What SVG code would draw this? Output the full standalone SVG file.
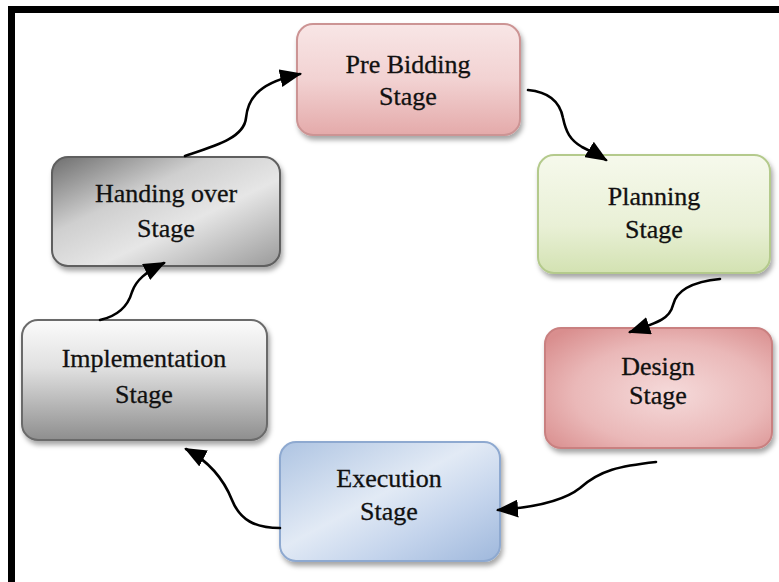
<svg xmlns="http://www.w3.org/2000/svg" width="779" height="582" viewBox="0 0 779 582">
  <defs>
    <style>
      .box { stroke-width: 2; filter: url(#shadow); }
      .label { font-family: "Liberation Serif", "Times New Roman", serif; font-size: 26px; fill: #111; stroke: #111; stroke-width: 0.3; text-anchor: middle; }
      .link { fill: none; stroke: #000; stroke-width: 2.6; stroke-linecap: round; marker-end: url(#arrow); }
    </style>
    <filter id="shadow" x="-10%" y="-10%" width="125%" height="130%">
      <feDropShadow dx="2" dy="4" stdDeviation="2.5" flood-color="#000" flood-opacity="0.35"/>
    </filter>
    <marker id="arrow" viewBox="0 0 22 18" refX="20" refY="9" markerWidth="22" markerHeight="18" orient="auto" markerUnits="userSpaceOnUse">
      <path d="M0,0 L22,9 L0,18 Z" fill="#000"/>
    </marker>
    <linearGradient id="gPre" x1="0" y1="0" x2="0" y2="1">
      <stop offset="0" stop-color="#f8e6e6"/>
      <stop offset="0.5" stop-color="#f2d2d2"/>
      <stop offset="1" stop-color="#e4aaaa"/>
    </linearGradient>
    <linearGradient id="gPlan" x1="0" y1="0" x2="0" y2="1">
      <stop offset="0" stop-color="#f6f9ec"/>
      <stop offset="0.6" stop-color="#e9f0d6"/>
      <stop offset="1" stop-color="#d3e2b2"/>
    </linearGradient>
    <radialGradient id="gDes" cx="0.55" cy="0.55" r="0.7">
      <stop offset="0" stop-color="#f5dada"/>
      <stop offset="0.6" stop-color="#eab8b8"/>
      <stop offset="1" stop-color="#d98e8e"/>
    </radialGradient>
    <linearGradient id="gExe" x1="0" y1="0" x2="1" y2="1">
      <stop offset="0" stop-color="#aec4e2"/>
      <stop offset="0.45" stop-color="#e2eaf5"/>
      <stop offset="0.7" stop-color="#c4d4ec"/>
      <stop offset="1" stop-color="#9fb8dc"/>
    </linearGradient>
    <linearGradient id="gImp" x1="0" y1="0" x2="0" y2="1">
      <stop offset="0" stop-color="#fbfbfb"/>
      <stop offset="0.4" stop-color="#e0e0e0"/>
      <stop offset="1" stop-color="#8e8e8e"/>
    </linearGradient>
    <linearGradient id="gHand" x1="0" y1="0" x2="1" y2="1">
      <stop offset="0" stop-color="#6e6e6e"/>
      <stop offset="0.35" stop-color="#cfcfcf"/>
      <stop offset="0.6" stop-color="#e6e6e6"/>
      <stop offset="1" stop-color="#9a9a9a"/>
    </linearGradient>
  </defs>

  <rect width="779" height="582" fill="#ffffff"/>
  <!-- frame (top and left edges only) -->
  <rect x="8" y="6" width="771" height="7" fill="#000"/>
  <rect x="8" y="6" width="7" height="576" fill="#000"/>

  <g id="pre-bidding">
    <rect class="box" x="297" y="24" width="223" height="111" rx="16" fill="url(#gPre)" stroke="#cc9494"/>
    <text class="label" x="408" y="73">Pre Bidding</text>
    <text class="label" x="408" y="105">Stage</text>
  </g>

  <g id="planning">
    <rect class="box" x="538" y="155" width="232" height="118" rx="16" fill="url(#gPlan)" stroke="#b4ca8c"/>
    <text class="label" x="654" y="205">Planning</text>
    <text class="label" x="654" y="238">Stage</text>
  </g>

  <g id="design">
    <rect class="box" x="545" y="328" width="227" height="120" rx="16" fill="url(#gDes)" stroke="#c98080"/>
    <text class="label" x="658" y="375">Design</text>
    <text class="label" x="658" y="404">Stage</text>
  </g>

  <g id="execution">
    <rect class="box" x="280" y="442" width="220" height="119" rx="16" fill="url(#gExe)" stroke="#8ea9d0"/>
    <text class="label" x="389" y="487">Execution</text>
    <text class="label" x="389" y="520">Stage</text>
  </g>

  <g id="implementation">
    <rect class="box" x="22" y="320" width="245" height="120" rx="16" fill="url(#gImp)" stroke="#6a6a6a"/>
    <text class="label" x="144" y="367">Implementation</text>
    <text class="label" x="144" y="403">Stage</text>
  </g>

  <g id="handing-over">
    <rect class="box" x="52" y="157" width="228" height="109" rx="16" fill="url(#gHand)" stroke="#5e5e5e"/>
    <text class="label" x="166" y="202">Handing over</text>
    <text class="label" x="166" y="237">Stage</text>
  </g>

  <g id="connectors">
    <path class="link" d="M185,156 C215,146 244,138 246,118 C248,96 262,82 300,74"/>
    <path class="link" d="M528,90 C550,92 560,102 563,118 C566,132 570,140 582,147 C592,152 598,155 606,160"/>
    <path class="link" d="M720,279 C690,282 676,292 673,305 C670,318 660,322 630,332"/>
    <path class="link" d="M656,462 C620,466 600,470 580,488 C565,500 540,507 498,510"/>
    <path class="link" d="M280,528 C255,528 240,520 232,500 C224,480 210,462 186,449"/>
    <path class="link" d="M100,320 C118,316 128,306 132,292 C136,280 146,272 164,263"/>
  </g>
</svg>
